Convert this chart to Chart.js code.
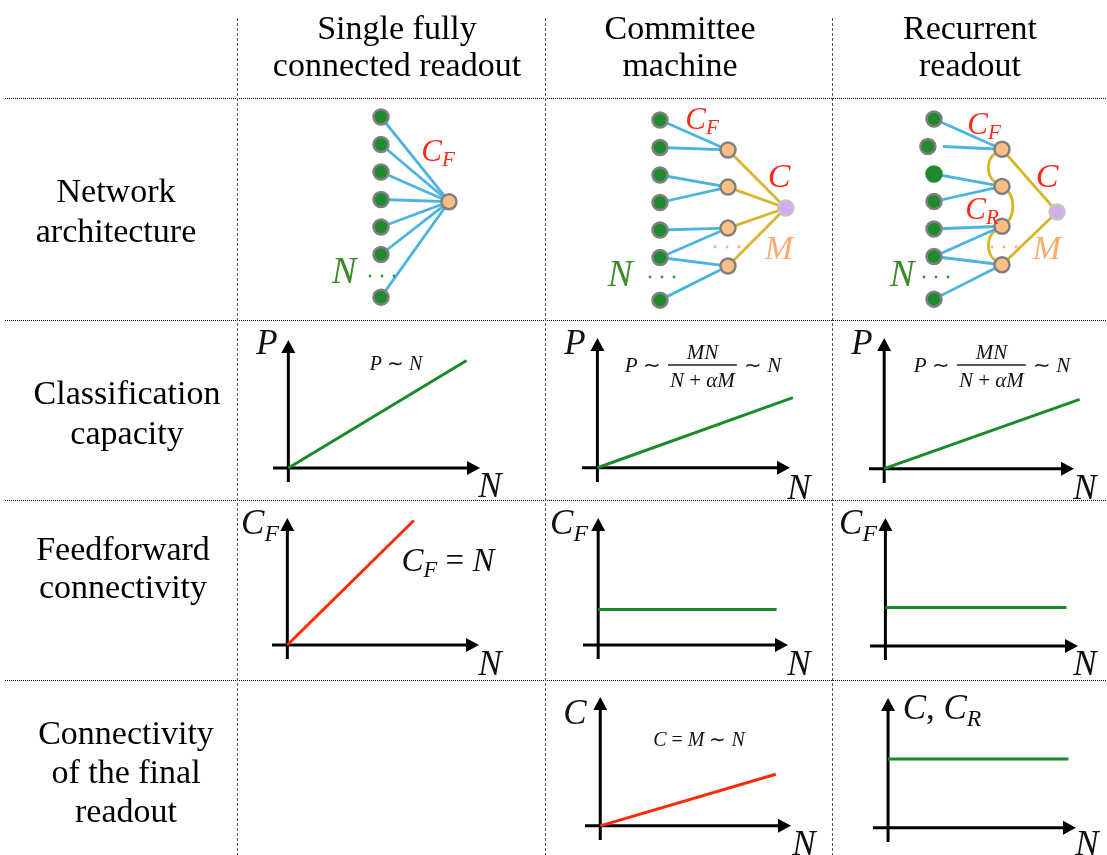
<!DOCTYPE html>
<html>
<head>
<meta charset="utf-8">
<script src="https://cdn.jsdelivr.net/npm/chart.js@4.4.1/dist/chart.umd.min.js"></script>
<style>
body { margin: 0; background: #fff; }
#fig { position: relative; width: 1107px; height: 855px; overflow: hidden; }
canvas { position: absolute; }
</style>
</head>
<body>
<div id="fig">
  <canvas id="netSingle"></canvas>
  <canvas id="netCommittee"></canvas>
  <canvas id="netRecurrent"></canvas>
  <canvas id="capSingle"></canvas>
  <canvas id="capCommittee"></canvas>
  <canvas id="capRecurrent"></canvas>
  <canvas id="cfSingle"></canvas>
  <canvas id="cfCommittee"></canvas>
  <canvas id="cfRecurrent"></canvas>
  <canvas id="finalCommittee"></canvas>
  <canvas id="finalRecurrent"></canvas>
  <canvas id="overlay"></canvas>
</div>

<script>
// ---- network architectures (x = layer, y = unit row) ----
const inputRows = [0, 1, 2, 3, 4, 5, 6.55];
const singleOut = [1, 3.08];
const committeeHiddenRows = [1.09, 2.44, 3.93, 5.31];
const committeeOut = [1.85, 3.2];
const recurrentInputX = [0, -0.09, 0, 0, 0, 0, 0];
const recurrentEdgeStartX = [0, 0.13, 0, 0, 0, 0, 0];
const recurrentHiddenRows = [1.1, 2.45, 3.9, 5.3];
const recurrentOut = [1.81, 3.38];
const feedLinks = [[0, 0], [1, 0], [2, 1], [3, 1], [4, 2], [5, 2], [5, 3], [6, 3]];
const recurrentReadout = [0, 3];
const recurrentBends = [-0.2, 0.16, -0.2];

// ---- scaling curves (x = N, y = quantity) ----
const capSingleN = [0, 0.93],       capSingleP = [0, 0.84];
const capCommitteeN = [0, 1.015],   capCommitteeP = [0, 0.54];
const capRecurrentN = [0, 1.03],    capRecurrentP = [0, 0.53];
const cfSingleN = [0, 0.66],        cfSingleC = [0, 0.98];
const cfCommitteeN = [0, 0.94],     cfCommitteeC = [0.28, 0.28];
const cfRecurrentN = [0, 0.94],     cfRecurrentC = [0.3, 0.3];
const finalCommitteeN = [0, 0.92],  finalCommitteeC = [0, 0.4];
const finalRecurrentN = [0, 0.96],  finalRecurrentC = [0.53, 0.53];
const axisN = [-0.08, 1];
const axisY = [-0.11, 1];

// ---- table text ----
const colHeads = [['Single fully', 'connected readout'], ['Committee', 'machine'], ['Recurrent', 'readout']];
const rowHeads = [['Network', 'architecture'], ['Classification', 'capacity'], ['Feedforward', 'connectivity'],
                  ['Connectivity', 'of the final', 'readout']];

const GREEN = '#1b8a2a', RED = '#ff2a0a', BLUE = '#4cb4de', GOLD = '#d6b52c';
const NODE_IN = '#1f8a30', NODE_HID = '#ffbe82', NODE_OUT = '#d5abee', NODE_EDGE = '#808080';
const LBL_RED = '#ff2a1a', LBL_GREEN = '#3a8a2a', LBL_ORANGE = '#ffaa70', INK = '#111';
const FONT = "'Liberation Serif'";

const baseOpts = {
  responsive: false,
  animation: false,
  events: [],
  plugins: { legend: { display: false }, tooltip: { enabled: false } }
};

function place(canvas, left, top, w, h) {
  canvas.width = w; canvas.height = h;
  canvas.style.left = left + 'px'; canvas.style.top = top + 'px';
}

// network chart: input column at (px, py) on the page, 68px per layer, 27.5px per row
function netChart(id, px, py, datasets) {
  const el = document.getElementById(id);
  place(el, px - 100, py - 20, 240, 220);
  new Chart(el, {
    type: 'scatter',
    data: { datasets },
    options: Object.assign({}, baseOpts, {
      layout: { padding: 0, autoPadding: false },
      scales: {
        x: { type: 'linear', display: false, min: -100 / 68, max: 140 / 68 },
        y: { type: 'linear', display: false, reverse: true, min: -20 / 27.5, max: 200 / 27.5 }
      }
    })
  });
}

function edge(a, b, color) {
  return { data: [a, b], showLine: true, borderColor: color, borderWidth: 2.8, pointRadius: 0, clip: false, order: 2 };
}
function nodes(pts, fill, border) {
  return {
    data: pts, showLine: false, pointRadius: 7.5, pointBorderWidth: 2.5,
    pointBackgroundColor: fill, pointBorderColor: border, clip: false, order: 0
  };
}

// single fully connected readout
{
  const ds = [];
  inputRows.forEach(r => ds.push(edge({ x: 0, y: r }, { x: singleOut[0], y: singleOut[1] }, BLUE)));
  ds.push(nodes(inputRows.map(r => ({ x: 0, y: r })), NODE_IN, NODE_EDGE));
  ds.push(nodes([{ x: singleOut[0], y: singleOut[1] }], NODE_HID, NODE_EDGE));
  netChart('netSingle', 381, 117, ds);
}

// committee machine
{
  const ds = [];
  feedLinks.forEach(([i, h]) => ds.push(edge({ x: 0, y: inputRows[i] }, { x: 1, y: committeeHiddenRows[h] }, BLUE)));
  committeeHiddenRows.forEach(r => ds.push(edge({ x: 1, y: r }, { x: committeeOut[0], y: committeeOut[1] }, GOLD)));
  ds.push(nodes(inputRows.map(r => ({ x: 0, y: r })), NODE_IN, NODE_EDGE));
  ds.push(nodes(committeeHiddenRows.map(r => ({ x: 1, y: r })), NODE_HID, NODE_EDGE));
  ds.push(nodes([{ x: committeeOut[0], y: committeeOut[1] }], NODE_OUT, '#c4c4c4'));
  netChart('netCommittee', 660, 120, ds);
}

// recurrent readout
{
  const ds = [];
  feedLinks.forEach(([i, h]) => ds.push(edge({ x: recurrentEdgeStartX[i], y: inputRows[i] }, { x: 1, y: recurrentHiddenRows[h] }, BLUE)));
  recurrentReadout.forEach(h => ds.push(edge({ x: 1, y: recurrentHiddenRows[h] }, { x: recurrentOut[0], y: recurrentOut[1] }, GOLD)));
  recurrentBends.forEach((b, k) => {
    const y0 = recurrentHiddenRows[k], y1 = recurrentHiddenRows[k + 1];
    ds.push({
      data: [{ x: 1, y: y0 }, { x: 1 + b * 0.75, y: y0 + (y1 - y0) * 0.2 }, { x: 1 + b, y: (y0 + y1) / 2 },
             { x: 1 + b * 0.75, y: y1 - (y1 - y0) * 0.2 }, { x: 1, y: y1 }],
      showLine: true, tension: 0.45, borderColor: GOLD, borderWidth: 2.8, pointRadius: 0, clip: false, order: 2
    });
  });
  ds.push(nodes(inputRows.map((r, i) => ({ x: recurrentInputX[i], y: r })), NODE_IN,
    inputRows.map((r, i) => i === 2 ? NODE_IN : NODE_EDGE)));
  ds.push(nodes(recurrentHiddenRows.map(r => ({ x: 1, y: r })), NODE_HID, NODE_EDGE));
  ds.push(nodes([{ x: recurrentOut[0], y: recurrentOut[1] }], NODE_OUT, '#c4c4c4'));
  netChart('netRecurrent', 934, 119, ds);
}

// ---- axis charts ----
const arrowAxes = {
  id: 'arrowAxes',
  beforeDatasetsDraw(chart) {
    const { ctx, scales: { x, y } } = chart;
    const x0 = x.getPixelForValue(0), y0 = y.getPixelForValue(0);
    const xa = x.getPixelForValue(x.min), xb = x.getPixelForValue(x.max);
    const ya = y.getPixelForValue(y.min), yb = y.getPixelForValue(y.max);
    ctx.save();
    ctx.strokeStyle = '#000';
    ctx.fillStyle = '#000';
    ctx.lineWidth = 3;
    ctx.beginPath();
    ctx.moveTo(xa, y0); ctx.lineTo(xb - 10, y0);
    ctx.moveTo(x0, ya); ctx.lineTo(x0, yb + 10);
    ctx.stroke();
    ctx.beginPath();
    ctx.moveTo(xb, y0); ctx.lineTo(xb - 13, y0 - 7); ctx.lineTo(xb - 13, y0 + 7); ctx.closePath();
    ctx.moveTo(x0, yb); ctx.lineTo(x0 - 7, yb + 13); ctx.lineTo(x0 + 7, yb + 13); ctx.closePath();
    ctx.fill();
    ctx.restore();
  }
};

// box = [left, top, right, bottom] of the axis lines on the page
function axisChart(id, box, xs, ys, color) {
  const el = document.getElementById(id);
  const pad = 8;
  place(el, box[0] - pad, box[1] - pad, box[2] - box[0] + 2 * pad, box[3] - box[1] + 2 * pad);
  new Chart(el, {
    type: 'line',
    data: {
      datasets: [{
        data: xs.map((v, i) => ({ x: v, y: ys[i] })),
        borderColor: color, borderWidth: 3, pointRadius: 0, clip: false
      }]
    },
    options: Object.assign({}, baseOpts, {
      layout: { padding: pad, autoPadding: false },
      scales: {
        x: { type: 'linear', display: false, min: axisN[0], max: axisN[1] },
        y: { type: 'linear', display: false, min: axisY[0], max: axisY[1] }
      }
    }),
    plugins: [arrowAxes]
  });
}

axisChart('capSingle', [273, 340, 480, 482], capSingleN, capSingleP, GREEN);
axisChart('capCommittee', [582, 338, 790, 482], capCommitteeN, capCommitteeP, GREEN);
axisChart('capRecurrent', [869, 338, 1074, 483], capRecurrentN, capRecurrentP, GREEN);
axisChart('cfSingle', [272, 518, 479, 659], cfSingleN, cfSingleC, RED);
axisChart('cfCommittee', [583, 518, 788, 659], cfCommitteeN, cfCommitteeC, GREEN);
axisChart('cfRecurrent', [870, 518, 1078, 660], cfRecurrentN, cfRecurrentC, GREEN);
axisChart('finalCommittee', [585, 697, 791, 840], finalCommitteeN, finalCommitteeC, RED);
axisChart('finalRecurrent', [873, 698, 1076, 842], finalRecurrentN, finalRecurrentC, GREEN);

// ---- table lines and all text, drawn on a full-size overlay chart ----
const I = t => ({ t, it: true });
const R = t => ({ t, it: false });
const S = t => ({ t, it: true, sub: true });
const frac = (num, den) => ({ frac: [num, den] });
const capFormula = [I('P'), R(' ∼ '), frac([I('MN')], [I('N'), R(' + '), I('αM')]), R(' ∼ '), I('N')];

const plainLabels = [
  { x: 397, y: 46, size: 34, gap: 37, lines: colHeads[0] },
  { x: 680, y: 46, size: 34, gap: 37, lines: colHeads[1] },
  { x: 970, y: 46, size: 34, gap: 37, lines: colHeads[2] },
  { x: 116, y: 210, size: 34, gap: 40, lines: rowHeads[0] },
  { x: 127, y: 412, size: 34, gap: 40, lines: rowHeads[1] },
  { x: 123, y: 567, size: 34, gap: 38, lines: rowHeads[2] },
  { x: 126, y: 771, size: 34, gap: 39, lines: rowHeads[3] }
];

const mathLabels = [
  // networks
  { x: 438, y: 150, size: 31, color: LBL_RED, runs: [I('C'), S('F')] },
  { x: 344, y: 270, size: 37, color: LBL_GREEN, runs: [I('N')] },
  { x: 702, y: 118, size: 31, color: LBL_RED, runs: [I('C'), S('F')] },
  { x: 779, y: 175, size: 34, color: LBL_RED, runs: [I('C')] },
  { x: 779, y: 247, size: 34, color: LBL_ORANGE, runs: [I('M')] },
  { x: 620, y: 273, size: 37, color: LBL_GREEN, runs: [I('N')] },
  { x: 984, y: 123, size: 31, color: LBL_RED, runs: [I('C'), S('F')] },
  { x: 1047, y: 175, size: 34, color: LBL_RED, runs: [I('C')] },
  { x: 982, y: 208, size: 31, color: LBL_RED, runs: [I('C'), S('R')] },
  { x: 1047, y: 247, size: 34, color: LBL_ORANGE, runs: [I('M')] },
  { x: 902, y: 273, size: 37, color: LBL_GREEN, runs: [I('N')] },
  // axis labels and formulas
  { x: 267, y: 342, size: 35, color: INK, runs: [I('P')] },
  { x: 490, y: 485, size: 35, color: INK, runs: [I('N')] },
  { x: 396, y: 363, size: 20, color: INK, runs: [I('P'), R(' ∼ '), I('N')] },
  { x: 575, y: 342, size: 35, color: INK, runs: [I('P')] },
  { x: 799, y: 487, size: 35, color: INK, runs: [I('N')] },
  { x: 703, y: 365, size: 21, color: INK, runs: capFormula },
  { x: 862, y: 342, size: 35, color: INK, runs: [I('P')] },
  { x: 1085, y: 487, size: 35, color: INK, runs: [I('N')] },
  { x: 992, y: 365, size: 21, color: INK, runs: capFormula },
  { x: 260, y: 522, size: 35, color: INK, runs: [I('C'), S('F')] },
  { x: 490, y: 663, size: 35, color: INK, runs: [I('N')] },
  { x: 448, y: 560, size: 33, color: INK, runs: [I('C'), S('F'), R(' = '), I('N')] },
  { x: 569, y: 522, size: 35, color: INK, runs: [I('C'), S('F')] },
  { x: 799, y: 663, size: 35, color: INK, runs: [I('N')] },
  { x: 858, y: 522, size: 35, color: INK, runs: [I('C'), S('F')] },
  { x: 1085, y: 663, size: 35, color: INK, runs: [I('N')] },
  { x: 575, y: 712, size: 35, color: INK, runs: [I('C')] },
  { x: 804, y: 843, size: 35, color: INK, runs: [I('N')] },
  { x: 699, y: 739, size: 20, color: INK, runs: [I('C'), R(' = '), I('M'), R(' ∼ '), I('N')] },
  { x: 942, y: 707, size: 35, color: INK, runs: [I('C'), R(', '), I('C'), S('R')] },
  { x: 1087, y: 843, size: 35, color: INK, runs: [I('N')] }
];

// ellipsis dots: centre of the middle dot
const ellipses = [
  { x: 382, y: 276, color: '#2f9a2f' }, { x: 662, y: 277, color: '#2f9a2f' }, { x: 936, y: 277, color: '#2f9a2f' },
  { x: 727, y: 247, color: LBL_ORANGE }, { x: 1004, y: 247, color: LBL_ORANGE }
];
const rowLines = [98, 320, 500, 680];
const colLines = [237, 545, 832];

function setFont(ctx, r, s) {
  ctx.font = (r.it ? 'italic ' : '') + (r.sub ? s * 0.68 : s) + 'px ' + FONT;
}
function runWidth(ctx, r, s) {
  if (r.frac) return Math.max(seqWidth(ctx, r.frac[0], s), seqWidth(ctx, r.frac[1], s)) + 8;
  setFont(ctx, r, s);
  return ctx.measureText(r.t).width;
}
function seqWidth(ctx, runs, s) {
  return runs.reduce((w, r) => w + runWidth(ctx, r, s), 0);
}
function drawSeq(ctx, runs, x, base, s) {
  runs.forEach(r => {
    const w = runWidth(ctx, r, s);
    if (r.frac) {
      const mid = base - 0.34 * s;
      const nw = seqWidth(ctx, r.frac[0], s), dw = seqWidth(ctx, r.frac[1], s);
      drawSeq(ctx, r.frac[0], x + (w - nw) / 2, mid - 0.62 * s + 0.34 * s, s);
      drawSeq(ctx, r.frac[1], x + (w - dw) / 2, mid + 0.71 * s + 0.34 * s, s);
      ctx.fillRect(x + 2, mid - 0.7, w - 4, 1.4);
    } else {
      setFont(ctx, r, s);
      ctx.fillText(r.t, x, r.sub ? base + 0.19 * s : base);
    }
    x += w;
  });
}

const tableOverlay = {
  id: 'tableOverlay',
  afterDraw(chart) {
    const ctx = chart.ctx;
    ctx.save();
    ctx.lineWidth = 1;
    ctx.strokeStyle = '#000';
    ctx.setLineDash([1, 1]);
    rowLines.forEach(y => { ctx.beginPath(); ctx.moveTo(5, y + 0.5); ctx.lineTo(1107, y + 0.5); ctx.stroke(); });
    ctx.strokeStyle = '#555';
    ctx.setLineDash([3, 2]);
    colLines.forEach(x => { ctx.beginPath(); ctx.moveTo(x + 0.5, 18); ctx.lineTo(x + 0.5, 855); ctx.stroke(); });
    ctx.setLineDash([]);

    ctx.textBaseline = 'alphabetic';
    ctx.fillStyle = '#000';
    ctx.textAlign = 'center';
    plainLabels.forEach(l => {
      ctx.font = l.size + 'px ' + FONT;
      const y0 = l.y - (l.lines.length - 1) * l.gap / 2;
      l.lines.forEach((line, i) => ctx.fillText(line, l.x, y0 + i * l.gap + 0.34 * l.size));
    });

    ctx.textAlign = 'left';
    mathLabels.forEach(l => {
      ctx.fillStyle = l.color;
      const w = seqWidth(ctx, l.runs, l.size);
      drawSeq(ctx, l.runs, l.x - w / 2, l.y + 0.34 * l.size, l.size);
    });

    ellipses.forEach(e => {
      ctx.fillStyle = e.color;
      [-12, 0, 12].forEach(dx => { ctx.beginPath(); ctx.arc(e.x + dx, e.y, 1.4, 0, Math.PI * 2); ctx.fill(); });
    });
    ctx.restore();
  }
};

{
  const el = document.getElementById('overlay');
  place(el, 0, 0, 1107, 855);
  new Chart(el, {
    type: 'scatter',
    data: { datasets: [] },
    options: Object.assign({}, baseOpts, {
      layout: { padding: 0, autoPadding: false },
      scales: { x: { display: false }, y: { display: false } }
    }),
    plugins: [tableOverlay]
  });
}
</script>
</body>
</html>
